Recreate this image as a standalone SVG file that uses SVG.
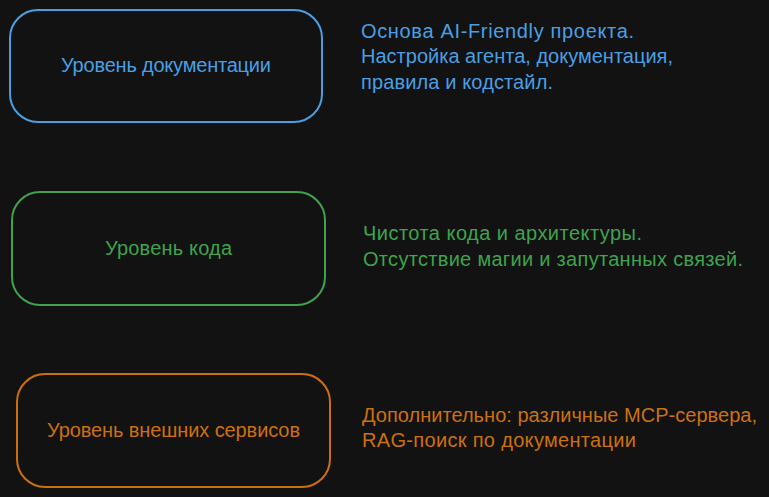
<svg xmlns="http://www.w3.org/2000/svg" width="769" height="497" viewBox="0 0 769 497">
<style>
text{font-family:"Liberation Sans","Noto Sans",sans-serif;font-size:20px}
.box{fill:none;stroke-width:2;stroke-linecap:round}
.blue{fill:#4a9fe3}.green{fill:#3fa24e}.orange{fill:#cc700f}
.sb{stroke:#4a9fe3}.sg{stroke:#3fa24e}.so{stroke:#cc700f}
</style>
<rect width="769" height="497" fill="#121212"/>
<g id="node-docs">
<rect class="box sb" x="10" y="10" width="312" height="112" rx="28"/>
<text class="blue" x="61" y="72" textLength="210" lengthAdjust="spacing">Уровень документации</text>
</g>
<g id="node-code">
<rect class="box sg" x="12" y="192" width="313" height="113" rx="28"/>
<text class="green" x="105" y="255" textLength="127" lengthAdjust="spacing">Уровень кода</text>
</g>
<g id="node-ext">
<rect class="box so" x="17" y="374" width="313" height="113" rx="28"/>
<text class="orange" x="47" y="437" textLength="253" lengthAdjust="spacing">Уровень внешних сервисов</text>
</g>
<g id="note-docs" class="blue">
<text x="361" y="38" textLength="273" lengthAdjust="spacing">Основа AI-Friendly проекта.</text>
<text x="361" y="63" textLength="312" lengthAdjust="spacing">Настройка агента, документация,</text>
<text x="361" y="89" textLength="192" lengthAdjust="spacing">правила и кодстайл.</text>
</g>
<g id="note-code" class="green">
<text x="363" y="240" textLength="279" lengthAdjust="spacing">Чистота кода и архитектуры.</text>
<text x="363" y="266" textLength="380" lengthAdjust="spacing">Отсутствие магии и запутанных связей.</text>
</g>
<g id="note-ext" class="orange">
<text x="362" y="422" textLength="395" lengthAdjust="spacing">Дополнительно: различные MCP-сервера,</text>
<text x="362" y="447" textLength="274" lengthAdjust="spacing">RAG-поиск по документации</text>
</g>
<g id="connectors"></g>
</svg>
